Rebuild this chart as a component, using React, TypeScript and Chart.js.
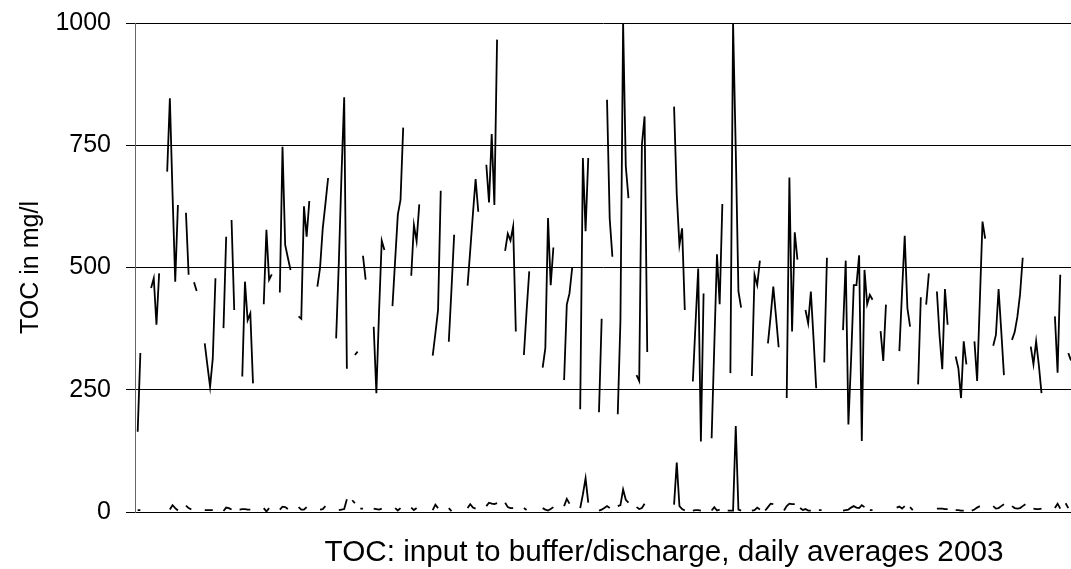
import { useEffect, useRef } from "react";
import { Chart, registerables } from "chart.js";

Chart.register(...registerables);

const DAY_COUNT = 350; // visible days, index 0 = 1 Jan 2003
const dayLabels: string[] = Array.from({ length: DAY_COUNT }, (_, i) =>
  new Date(Date.UTC(2003, 0, 1 + i)).toISOString().slice(0, 10)
);
const yTickValues = [0, 250, 500, 750, 1000];
const yAxisTitle = "TOC in mg/l";
const xAxisTitle = "TOC: input to buffer/discharge, daily averages 2003";

// runs of consecutive daily values: [first day index, values]
const inputRuns: [number, number[]][] = [
  [1, [164, 325]],
  [6, [458, 478, 383, 488]],
  [12, [696, 846, 650, 471, 628]],
  [19, [612, 485]],
  [22, [470, 452]],
  [26, [345, 300, 256, 314, 478]],
  [33, [376, 563]],
  [36, [597, 413]],
  [40, [277, 471, 392, 406, 263]],
  [48, [425, 577, 475, 486]],
  [54, [449, 747, 546, 520, 495]],
  [61, [400, 395, 625, 563, 636]],
  [68, [461, 499, 580, 630, 683]],
  [75, [355, 510, 690, 848, 293]],
  [82, [321, 328]],
  [85, [524, 475]],
  [89, [379, 243, 410, 555, 536]],
  [96, [421, 515, 608, 638, 786]],
  [103, [483, 587, 554, 629]],
  [111, [320, 365, 413, 657]],
  [117, [348, 455, 567]],
  [124, [463, 535, 610, 681, 614]],
  [131, [710, 633, 773, 628, 966]],
  [138, [534, 569, 555, 584, 369]],
  [145, [321, 410, 492]],
  [152, [295, 335, 601, 464, 541]],
  [160, [270, 424, 447, 499]],
  [166, [210, 724, 574, 724]],
  [173, [204, 395]],
  [176, [843, 600, 522]],
  [180, [200, 391, 1000, 707, 642]],
  [187, [280, 268, 751, 809, 327]],
  [201, [829, 649, 546, 580, 413]],
  [208, [267, 385, 498, 144, 447]],
  [215, [151, 340, 527, 425, 630]],
  [222, [284, 1000, 740, 451, 418]],
  [230, [278, 485, 464, 514]],
  [236, [345, 400, 461, 400, 337]],
  [243, [233, 684, 369, 572, 516]],
  [250, [413, 386, 451, 355, 253]],
  [257, [306, 520]],
  [264, [372, 514, 179, 311, 464, 464, 525, 145, 495, 425, 444, 434]],
  [278, [370, 309, 424]],
  [285, [329, 450, 565, 417, 379]],
  [292, [261, 439]],
  [295, [424, 488]],
  [299, [451, 360, 292, 456, 383]],
  [306, [318, 294, 233, 349, 302]],
  [313, [349, 268, 430, 594, 559]],
  [320, [340, 362, 456, 370, 280]],
  [327, [352, 368, 399, 445, 520]],
  [334, [338, 302, 349, 301, 243]],
  [343, [400, 285, 485]],
  [348, [325, 310]],
];

const outputRuns: [number, number[]][] = [
  [1, [4, 4]],
  [13, [5, 14, 8, 3]],
  [19, [13, 8, 5]],
  [26, [4, 4, 4, 4]],
  [33, [2, 9, 8, 5]],
  [39, [5, 6, 6, 5, 5]],
  [48, [8, 1, 8]],
  [54, [5, 11, 10, 6]],
  [61, [10, 5, 5, 10]],
  [69, [5, 6, 12]],
  [76, [4, 5, 6, 26]],
  [81, [24, 18]],
  [84, [7, 7]],
  [89, [7, 6, 5, 7]],
  [97, [8, 3, 8]],
  [103, [9, 4, 8]],
  [111, [4, 15, 8]],
  [117, [8, 2]],
  [124, [8, 16, 9, 7]],
  [131, [12, 19, 17, 16, 18]],
  [138, [19, 10, 8, 8]],
  [145, [8, 4]],
  [152, [8, 5, 3, 6, 10]],
  [160, [12, 27, 17]],
  [166, [8, 36, 69, 19]],
  [173, [3, 5, 8, 12, 8]],
  [180, [12, 14, 46, 25, 19]],
  [187, [10, 6, 8, 17]],
  [201, [15, 101, 12, 6, 3]],
  [208, [3, 4, 4, 3]],
  [215, [3, 10, 3, 5]],
  [221, [3, 3, 3, 176, 5, 3]],
  [230, [3, 4, 9, 5]],
  [235, [3, 10, 17, 16]],
  [242, [3, 12, 17, 16, 16]],
  [248, [8, 4, 6, 3, 3]],
  [255, [4, 4]],
  [264, [3, 4, 5, 9, 12, 9, 8, 14, 10]],
  [274, [4, 4]],
  [284, [9, 11, 7, 12]],
  [289, [10, 4]],
  [299, [7, 7, 7, 6, 6]],
  [306, [4, 4, 3, 3]],
  [312, [3, 5, 9, 12]],
  [320, [12, 7, 8, 12, 16]],
  [327, [12, 8, 7, 8, 12, 16]],
  [335, [7, 6, 6, 7]],
  [343, [8, 17, 7]],
  [347, [18, 8]],
];

function expandRuns(runs: [number, number[]][]): (number | null)[] {
  const out: (number | null)[] = new Array(DAY_COUNT).fill(null);
  for (const [start, vals] of runs) {
    vals.forEach((v, i) => {
      if (start + i < DAY_COUNT) out[start + i] = v;
    });
  }
  return out;
}

const inputValues = expandRuns(inputRuns);
const outputValues = expandRuns(outputRuns);

const FONT = '"Liberation Sans", Arial, sans-serif';

const xTitlePlugin = {
  id: "xTitlePlugin",
  afterDraw(chart: any) {
    const ctx = chart.ctx;
    ctx.save();
    ctx.font = `29.7px ${FONT}`;
    ctx.fillStyle = "#000";
    ctx.textAlign = "center";
    ctx.textBaseline = "middle";
    ctx.fillText(xAxisTitle, 664, 553);
    ctx.restore();
  },
};

export default function App() {
  const ref = useRef<HTMLCanvasElement | null>(null);

  useEffect(() => {
    if (!ref.current) return;
    const chart = new Chart(ref.current, {
      type: "line",
      data: {
        labels: dayLabels,
        datasets: [
          {
            label: "input",
            data: inputValues,
            borderColor: "#000",
            borderWidth: 1.8,
            pointRadius: 0,
            spanGaps: false,
            tension: 0,
          },
          {
            label: "discharge",
            data: outputValues,
            borderColor: "#000",
            borderWidth: 1.8,
            pointRadius: 0,
            spanGaps: false,
            tension: 0,
          },
        ],
      },
      options: {
        animation: false,
        responsive: false,
        layout: { padding: { top: 23, left: 0, right: 0, bottom: 0 } },
        plugins: {
          legend: { display: false },
          tooltip: { enabled: false },
          title: { display: false },
        },
        scales: {
          x: {
            type: "category",
            offset: false,
            ticks: { display: false },
            grid: { display: false },
            border: { display: false },
            afterFit: (s: any) => {
              s.height = 57;
              s.paddingLeft = 0;
              s.paddingRight = 0;
            },
          },
          y: {
            min: 0,
            max: 1000,
            afterBuildTicks: (s: any) => {
              s.ticks = yTickValues.map((v) => ({ value: v }));
            },
            afterFit: (s: any) => {
              s.width = 135;
              s.paddingTop = 0;
              s.paddingBottom = 0;
            },
            ticks: {
              color: "#000",
              font: { family: FONT, size: 25 },
              padding: 15,
              callback: (v: any) => String(v),
            },
            grid: {
              color: "#000",
              lineWidth: 1,
              tickLength: 9,
              drawTicks: true,
            },
            border: { display: true, color: "#666", width: 1 },
            title: {
              display: true,
              text: yAxisTitle,
              color: "#000",
              font: { family: FONT, size: 25 },
              padding: { top: 16, bottom: 0 },
            },
          },
        },
      },
      plugins: [xTitlePlugin],
    } as any);
    return () => chart.destroy();
  }, []);

  return (
    <div style={{ position: "fixed", left: 0, top: 0, width: 1071, height: 569, background: "#fff" }}>
      <canvas ref={ref} width={1071} height={569} />
    </div>
  );
}
